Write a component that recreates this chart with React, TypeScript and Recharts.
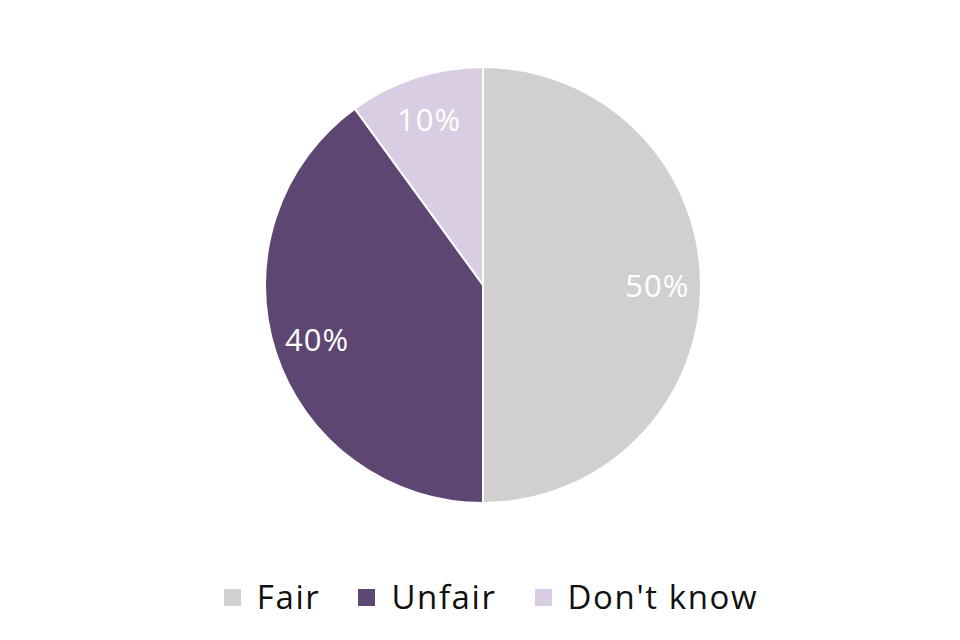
import React from 'react';
import { PieChart, Pie, Cell } from 'recharts';

const categories = ['Fair', 'Unfair', "Don't know"];
const shares = [50, 40, 10];
const colors = ['#d0d0d0', '#5e4673', '#d8cde2'];

const data = categories.map((name, i) => ({ name, value: shares[i] }));

const FONT = '"Open Sans", "Noto Sans", sans-serif';
const RAD = Math.PI / 180;

// percentage labels sit at 80% of the radius, in the middle of each slice
const renderLabel = (props: any) => {
  const { cx, cy, midAngle, outerRadius, value } = props;
  const r = outerRadius * 0.8;
  const x = cx + r * Math.cos(-midAngle * RAD);
  const y = cy + r * Math.sin(-midAngle * RAD);
  return (
    <text x={x} y={y} fill="#ffffff" fontSize={31} letterSpacing={1} fontFamily={FONT} textAnchor="middle" dominantBaseline="central">
      {value}%
    </text>
  );
};

function ChartLegend() {
  return (
    <div style={{
      position: 'absolute', left: 11, top: 574, width: 960, display: 'flex', justifyContent: 'center',
      alignItems: 'center', fontFamily: FONT, fontSize: 33, letterSpacing: 1.6, color: '#111', lineHeight: '46px',
    }}>
      {categories.map((name, i) => (
        <div key={name} style={{ display: 'flex', alignItems: 'center', marginLeft: i === 0 ? 0 : 38 }}>
          <span style={{ width: 17, height: 17, background: colors[i], display: 'inline-block', marginRight: 16 }} />
          <span>{name}</span>
        </div>
      ))}
    </div>
  );
}

export default function App() {
  return (
    <div style={{ position: 'absolute', left: 0, top: 0, width: 960, height: 640, background: '#fff' }}>
      <PieChart width={960} height={640} margin={{ top: 0, right: 0, bottom: 0, left: 0 }}>
        <Pie
          data={data}
          dataKey="value"
          nameKey="name"
          cx={483}
          cy={285}
          outerRadius={218}
          startAngle={90}
          endAngle={-270}
          stroke="#ffffff"
          strokeWidth={2}
          label={renderLabel}
          labelLine={false}
          isAnimationActive={false}
        >
          {data.map((d, i) => (
            <Cell key={d.name} fill={colors[i]} />
          ))}
        </Pie>
      </PieChart>
      <ChartLegend />
    </div>
  );
}
